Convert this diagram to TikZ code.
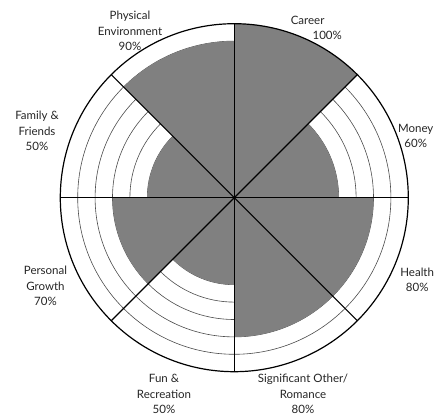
\documentclass[tikz,border=0pt]{standalone}
\usepackage{xcolor}
\usepackage{fontspec}
\setmainfont{Lato}
\usepackage{tikz}

\definecolor{wheelgray}{RGB}{128,128,128}

\begin{document}
\begin{tikzpicture}[x=1pt,y=1pt,
    lbl/.style={draw=none, align=center, inner sep=0pt,
                font=\fontsize{11.5}{15.3}\selectfont, text=black!85},
    ring/.style={draw=black!70, line width=0.6pt},
    spoke/.style={draw=black, line width=1.2pt},
    share/.style={fill=wheelgray}]
             \useasboundingbox (-234.3,-217.3) rectangle (213.7,197.7);
             \fill[white] (-234.3,-217.3) rectangle (213.7,197.7);
             \coordinate (hub) at (0,0);

             % rings every 10%
             \foreach \r in {17.4,34.8,...,160} {
               \draw[ring] (hub) circle[radius=\r];
             }

             % the eight shares
             \fill[share] (hub) -- (45:174)   arc[start angle=45,  end angle=90,  radius=174]   -- cycle;
             \fill[share] (hub) -- (0:104.4)  arc[start angle=0,   end angle=45,  radius=104.4] -- cycle;
             \fill[share] (hub) -- (-45:139.2) arc[start angle=-45, end angle=0,  radius=139.2] -- cycle;
             \fill[share] (hub) -- (-90:139.2) arc[start angle=-90, end angle=-45, radius=139.2] -- cycle;
             \fill[share] (hub) -- (225:87)   arc[start angle=225, end angle=270, radius=87]    -- cycle;
             \fill[share] (hub) -- (180:121.8) arc[start angle=180, end angle=225, radius=121.8] -- cycle;
             \fill[share] (hub) -- (135:87)   arc[start angle=135, end angle=180, radius=87]    -- cycle;
             \fill[share] (hub) -- (90:156.6) arc[start angle=90,  end angle=135, radius=156.6] -- cycle;

             % spokes and rim
             \foreach \a in {0,45,...,315} {
               \draw[spoke] (hub) -- (\a:174);
             }
             \draw[spoke] (hub) circle[radius=174];

             \node[lbl] (physical) at (-104.3,166.7) {Physical\\Environment\\90\%};
             \node[lbl, align=left] (career) at (82,169.5) {Career\\\hspace{1.9em}100\%};
             \node[lbl] (money) at (181.4,61.7) {Money\\60\%};
             \node[lbl] (health) at (182.9,-82.3) {Health\\80\%};
             \node[lbl] (romance) at (68.7,-196.3) {Significant Other/\\Romance\\80\%};
             \node[lbl] (fun) at (-70.3,-196.3) {Fun \&\\Recreation\\50\%};
             \node[lbl] (growth) at (-188.8,-88.3) {Personal\\Growth\\70\%};
             \node[lbl] (family) at (-197.3,66.7) {Family \&\\Friends\\50\%};
\end{tikzpicture}
\end{document}
